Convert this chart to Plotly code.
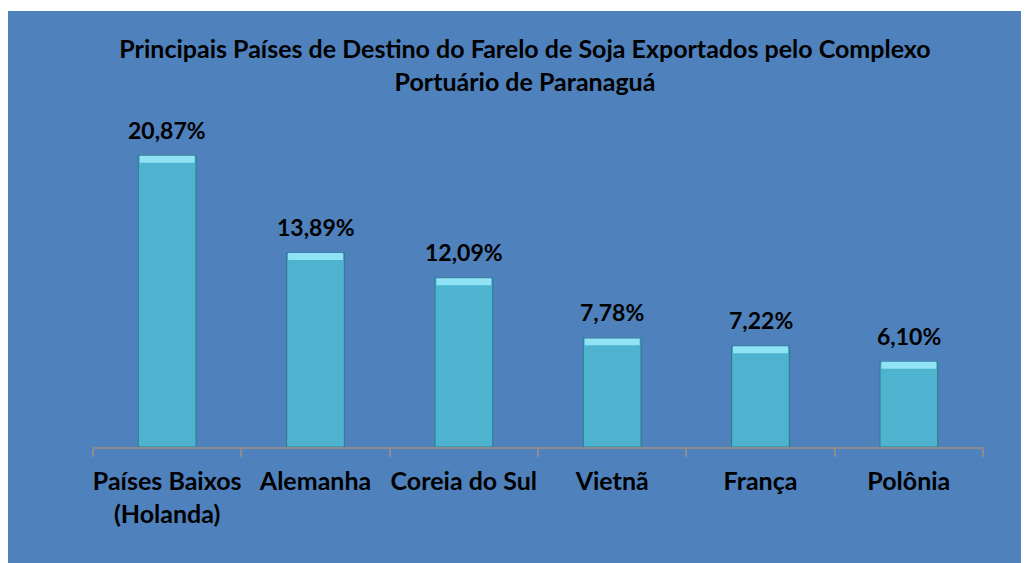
import plotly.graph_objects as go

categories = ["Países Baixos<br>(Holanda)", "Alemanha", "Coreia do Sul", "Vietnã", "França", "Polônia"]
values = [20.87, 13.89, 12.09, 7.78, 7.22, 6.10]
labels = ["20,87%", "13,89%", "12,09%", "7,78%", "7,22%", "6,10%"]

title = "Principais Países de Destino do Farelo de Soja Exportados pelo Complexo<br>Portuário de Paranaguá"

FONT = "Lato"
W, H = 1029, 563
OFF = 8  # page body margin
ml, mr, mt, mb = 93 - OFF, 46 + OFF, 98 - OFF, 116 + OFF
ph = H - mt - mb
pw = W - ml - mr

fig = go.Figure()
fig.add_trace(go.Bar(
    x=categories, y=values,
    marker=dict(color="#4DB3CE", line=dict(color="#2E7F95", width=1.2)),
    width=0.39,
    hoverinfo="skip",
))
fig.add_trace(go.Bar(
    x=categories, y=[0.5] * len(values), base=[v - 0.5 for v in values],
    marker=dict(color="#8FE3F5", line=dict(width=0)),
    width=0.37, hoverinfo="skip",
))

annotations = [
    dict(x=c, y=v, xref="x", yref="y", text=t, showarrow=False,
         yanchor="bottom", yshift=10,
         font=dict(family=FONT, size=23, color="#000000", weight="bold"))
    for c, v, t in zip(categories, values, labels)
]

fig.update_layout(
    width=W, height=H,
    barmode="overlay",
    showlegend=False,
    paper_bgcolor="#FFFFFF",
    plot_bgcolor="rgba(0,0,0,0)",
    margin=dict(l=ml, r=mr, t=mt, b=mb, autoexpand=False),
    title=dict(text=title, x=(525 - OFF) / W, xanchor="center", y=1 - (58 - OFF) / H, yanchor="middle",
               font=dict(family=FONT, size=25, color="#000000", weight="bold"), pad=dict(t=0)),
    font=dict(family=FONT, weight="bold"),
    annotations=annotations,
    shapes=[dict(type="rect", xref="paper", yref="paper",
                 x0=(7 - OFF - ml) / pw, x1=(W + 5 - ml) / pw,
                 y0=(mt + ph - H - 5) / ph, y1=(mt + ph - (11 - OFF)) / ph,
                 fillcolor="#4F81BD", line=dict(width=0), layer="below")],
)
fig.update_xaxes(
    showline=True, linecolor="#8C8C8C", linewidth=2,
    ticks="outside", tickcolor="#8C8C8C", ticklen=8, tickwidth=2,
    tickson="boundaries", ticklabelstandoff=11, tickangle=0, automargin=False,
    tickfont=dict(family=FONT, size=25, color="#000000", weight="bold"),
    showgrid=False,
)
fig.update_yaxes(range=[0, 25], visible=False, showgrid=False)

fig.write_html("out.html")
